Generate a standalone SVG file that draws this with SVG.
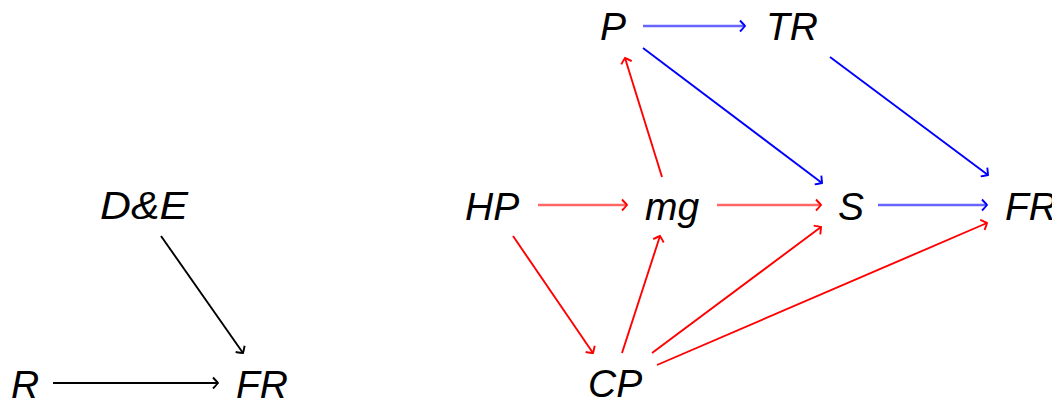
<svg xmlns="http://www.w3.org/2000/svg" width="1052" height="401" viewBox="0 0 1052 401">
<style>
text{font-family:"Liberation Sans",Arial,sans-serif;font-style:italic;font-size:39px;fill:#000}
.e{fill:none;stroke-width:1.9}
.k{stroke:#000;marker-end:url(#ak)}
.r{stroke:#ff0000;marker-end:url(#ar)}
.b{stroke:#0000ff;marker-end:url(#ab)}
.h{stroke-width:2.4;stroke-opacity:0.6}
</style>
<defs>
<marker id="ak" markerUnits="userSpaceOnUse" markerWidth="12" markerHeight="12" viewBox="-6 -6 12 12" refX="0" refY="0" orient="auto" overflow="visible"><path d="M-5,-5.5 Q-1,-1.3 0,0 Q-1,1.3 -5,5.5" fill="none" stroke="#000" stroke-width="1.9"/></marker>
<marker id="ar" markerUnits="userSpaceOnUse" markerWidth="12" markerHeight="12" viewBox="-6 -6 12 12" refX="0" refY="0" orient="auto" overflow="visible"><path d="M-5,-5.5 Q-1,-1.3 0,0 Q-1,1.3 -5,5.5" fill="none" stroke="#ff0000" stroke-width="1.9"/></marker>
<marker id="ab" markerUnits="userSpaceOnUse" markerWidth="12" markerHeight="12" viewBox="-6 -6 12 12" refX="0" refY="0" orient="auto" overflow="visible"><path d="M-5,-5.5 Q-1,-1.3 0,0 Q-1,1.3 -5,5.5" fill="none" stroke="#0000ff" stroke-width="1.9"/></marker>
</defs>
<g id="n-DE"><text x="100" y="219" textLength="88" lengthAdjust="spacingAndGlyphs">D&amp;E</text></g>
<g id="n-R"><text x="11" y="398">R</text></g>
<g id="n-FR1"><text x="236" y="398">FR</text></g>
<g id="n-P"><text x="600" y="40">P</text></g>
<g id="n-TR"><text x="766" y="40">TR</text></g>
<g id="n-HP"><text x="465" y="220">HP</text></g>
<g id="n-mg"><text x="645" y="220">mg</text></g>
<g id="n-S"><text x="838" y="220">S</text></g>
<g id="n-FR2"><text x="1005" y="220">FR</text></g>
<g id="n-CP"><text x="588" y="397">CP</text></g>
<g id="edges">
<line class="e k" x1="53" y1="383" x2="218" y2="383"/>
<line class="e k" x1="161" y1="236" x2="243" y2="353"/>
<line class="e b h" x1="643" y1="26" x2="745" y2="26"/>
<line class="e b" x1="643" y1="48" x2="822" y2="183"/>
<line class="e b" x1="830" y1="57" x2="988" y2="175"/>
<line class="e r h" x1="538" y1="205" x2="627" y2="205"/>
<line class="e r h" x1="717" y1="205" x2="821" y2="205"/>
<line class="e b h" x1="878" y1="205" x2="987" y2="205"/>
<line class="e r" x1="662" y1="177" x2="625" y2="58"/>
<line class="e r" x1="513" y1="236" x2="593" y2="353"/>
<line class="e r" x1="622" y1="353" x2="660" y2="236"/>
<line class="e r" x1="652" y1="353" x2="821" y2="227"/>
<line class="e r" x1="657" y1="365" x2="987" y2="223"/>
</g>
</svg>
